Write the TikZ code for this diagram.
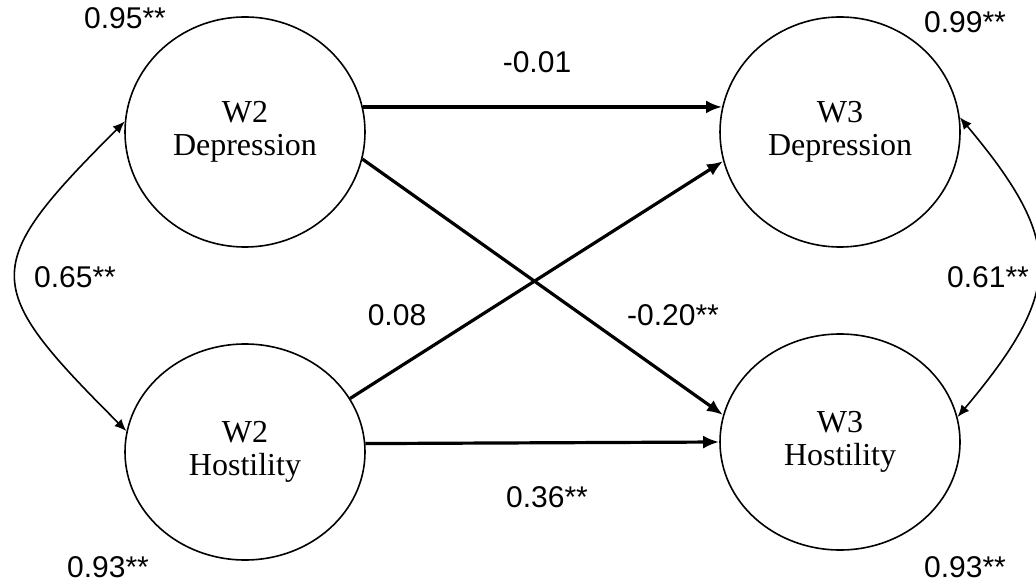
\documentclass[tikz,border=0pt]{standalone}
\usepackage{fontspec}
\setmainfont{Liberation Serif}
\newfontfamily\numfont{Liberation Sans}
\usetikzlibrary{arrows.meta,shapes.geometric,positioning}

\begin{document}
\begin{tikzpicture}[x=0.5pt,y=0.5pt,>={Latex[length=8pt,width=6.5pt]},node distance=160pt,
  latent/.style={ellipse,draw,line width=0.8pt,minimum width=120pt,minimum height=115pt,
    align=center,inner sep=0pt,font=\fontsize{16}{16.5}\selectfont},
  regpath/.style={->,line width=1.6pt},
  cov/.style={<->,line width=0.8pt,>={Latex[length=6pt,width=5pt]}},
  coef/.style={inner sep=0pt,font=\numfont\fontsize{15}{15}\selectfont}]
\useasboundingbox (0,0) rectangle (1036,584);

% latent variables
\node[latent]                        (dep2)  at (245,452)                        {W2\\Depression};
\node[latent,minimum height=108pt]   (host2) [below of=dep2]                     {W2\\Hostility};
\node[latent]                        (dep3)  [right of=dep2, node distance=297.5pt] {W3\\Depression};
\node[latent,minimum height=108pt]   (host3) [below of=dep3, node distance=155pt]   {W3\\Hostility};

% cross-lagged paths
\draw[regpath] (dep2.12)  -- (dep3.168);
\draw[regpath] (dep2.-13) -- (host3.167);
\draw[regpath] (host2.27) -- (dep3.194);
\draw[regpath] (host2.4)  -- (host3.west);

% correlations
\draw[cov] (dep2.175) to[out=225,in=135,looseness=1.7] (host2.170);
\draw[cov] (dep3.7)   to[out=-50,in=50,looseness=1.4]  (host3.12);

% coefficients
\node[coef] (e-dep2)  at (125,566) {0.95**};
\node[coef] (e-dep3)  at (965,562) {0.99**};
\node[coef] (e-host2) at (108,17)  {0.93**};
\node[coef] (e-host3) at (965,17)  {0.93**};
\node[coef] (c-w2)    at (75,307)  {0.65**};
\node[coef] (c-w3)    at (988,307) {0.61**};
\node[coef] (b-dd)    at (537,522) {-0.01};
\node[coef] (b-hd)    at (397,269) {0.08};
\node[coef] (b-dh)    at (673,269) {-0.20**};
\node[coef] (b-hh)    at (547,87)  {0.36**};

\end{tikzpicture}
\end{document}
